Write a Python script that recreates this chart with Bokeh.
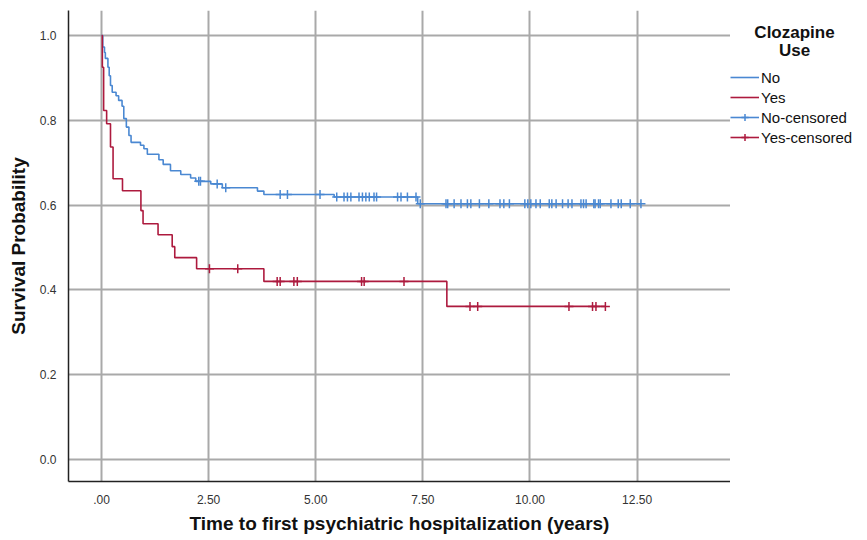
import numpy as np
from bokeh.plotting import figure
from bokeh.layouts import row
from bokeh.models import FixedTicker, Legend, LegendItem, Range1d, Label
from bokeh.embed import file_html
from bokeh.resources import INLINE

# ---------------- data ----------------
groups = ["No", "Yes"]
legend_title = ["Clozapine", "Use"]

no_event_t = [0.03, 0.07, 0.09, 0.15, 0.18, 0.21, 0.25, 0.34, 0.40, 0.48, 0.52,
              0.58, 0.64, 0.69, 0.91, 0.99, 1.07, 1.34, 1.44, 1.61, 1.85, 2.08,
              2.20, 2.55, 2.82, 3.64, 3.79, 5.43, 7.38]
no_surv = [0.973, 0.960, 0.946, 0.925, 0.905, 0.882, 0.866, 0.858, 0.847, 0.833, 0.804,
           0.784, 0.764, 0.748, 0.741, 0.733, 0.720, 0.707, 0.696, 0.681, 0.672, 0.664,
           0.656, 0.650, 0.641, 0.633, 0.625, 0.619, 0.603]
no_censor_t = [2.27, 2.31, 2.70, 2.90, 4.17, 4.34, 5.10, 5.49, 5.66, 5.74, 5.82,
               6.01, 6.09, 6.17, 6.25, 6.36, 6.42, 6.91, 6.99, 7.14, 7.34, 7.44,
               8.04, 8.08, 8.23, 8.39, 8.54, 8.62, 8.82, 9.04, 9.30, 9.39, 9.52,
               9.88, 9.95, 10.02, 10.14, 10.24, 10.45, 10.51, 10.61, 10.76, 10.89,
               10.98, 11.19, 11.25, 11.31, 11.49, 11.52, 11.60, 11.64, 11.89, 12.06,
               12.13, 12.34, 12.59]
no_end = 12.59

yes_event_t = [0.02, 0.05, 0.12, 0.21, 0.27, 0.49, 0.92, 0.97, 1.32, 1.65, 1.71,
               2.22, 3.79, 8.06]
yes_surv = [0.925, 0.823, 0.792, 0.737, 0.662, 0.634, 0.587, 0.556, 0.530, 0.502,
            0.476, 0.450, 0.420, 0.361]
yes_censor_t = [2.52, 3.18, 4.10, 4.17, 4.49, 4.57, 6.07, 6.13, 7.06,
                8.60, 8.78, 10.91, 11.46, 11.54, 11.76]
yes_end = 11.76

x_ticks = [0, 2.5, 5, 7.5, 10, 12.5]
x_tick_labels = [".00", "2.50", "5.00", "7.50", "10.00", "12.50"]
y_ticks = [0, 0.2, 0.4, 0.6, 0.8, 1.0]
y_tick_labels = ["0.0", "0.2", "0.4", "0.6", "0.8", "1.0"]

BLUE = "#4a88d2"
RED = "#ad1a3e"
FONT = "Liberation Sans"

H = 540
W_MAIN, W_LEG = 730, 137
B_TOP, B_BOT = 10, 59
FRAME_BOTTOM = H - B_BOT  # pixel row of the frame bottom (shared by both panels)


def step_xy(ev_t, surv, end):
    xs = [0.0] + list(ev_t) + [end]
    ys = [1.0] + list(surv) + [surv[-1]]
    return xs, ys


def censor_y(ev_t, surv, cens):
    ev = np.asarray(ev_t)
    sv = np.asarray(surv)
    idx = np.searchsorted(ev, np.asarray(cens), side="right") - 1
    return np.where(idx < 0, 1.0, sv[np.clip(idx, 0, None)])


nx, ny = step_xy(no_event_t, no_surv, no_end)
yx, yy = step_xy(yes_event_t, yes_surv, yes_end)
ncy = censor_y(no_event_t, no_surv, no_censor_t)
ycy = censor_y(yes_event_t, yes_surv, yes_censor_t)

p = figure(width=W_MAIN, height=H, output_backend="svg", toolbar_location=None,
           x_range=Range1d(-0.77, 14.68), y_range=Range1d(-0.052, 1.059),
           min_border_left=68, min_border_right=0, min_border_top=B_TOP,
           min_border_bottom=B_BOT)
p.outline_line_color = None
p.background_fill_color = "white"
p.border_fill_color = "white"

for g in (p.xgrid, p.ygrid):
    g.grid_line_color = "#a9a9a9"
    g.grid_line_width = 2

p.xaxis.ticker = FixedTicker(ticks=x_ticks)
p.xaxis.major_label_overrides = {t: l for t, l in zip(x_ticks, x_tick_labels)}
p.yaxis.ticker = FixedTicker(ticks=y_ticks)
p.yaxis.major_label_overrides = {t: l for t, l in zip(y_ticks, y_tick_labels)}

for ax in (p.xaxis, p.yaxis):
    ax.axis_line_color = "#222222"
    ax.axis_line_width = 1.5
    ax.major_tick_line_color = None
    ax.minor_tick_line_color = None
    ax.major_label_text_font = FONT
    ax.major_label_text_font_size = "12px"
    ax.major_label_text_color = "#333333"
    ax.axis_label_text_font = FONT
    ax.axis_label_text_font_style = "bold"
    ax.axis_label_text_font_size = "19px"
    ax.axis_label_text_color = "#111111"

p.xaxis.axis_label = "Time to first psychiatric hospitalization (years)"
p.yaxis.axis_label = "Survival Probability"
p.xaxis.major_label_standoff = 7
p.xaxis.axis_label_standoff = 6
p.yaxis.major_label_standoff = 6
p.yaxis.axis_label_standoff = 8

p.step(nx, ny, mode="after", line_color=BLUE, line_width=1.6)
p.step(yx, yy, mode="after", line_color=RED, line_width=1.6)
p.scatter(no_censor_t, ncy, marker="cross", size=9, line_color=BLUE, line_width=1.5)
p.scatter(yes_censor_t, ycy, marker="cross", size=9, line_color=RED, line_width=1.5)

# ---------------- legend panel (its frame is aligned with the main frame) ----------------
q = figure(width=W_LEG, height=H, output_backend="svg", toolbar_location=None,
           x_range=Range1d(-3, -2), y_range=Range1d(-3, -2),
           x_axis_location=None, y_axis_location=None,
           min_border_left=0, min_border_right=0, min_border_top=B_TOP,
           min_border_bottom=B_BOT)
q.outline_line_color = None
q.xgrid.visible = False
q.ygrid.visible = False

# same series drawn off-range in this panel, only so the legend has glyphs to show
q_no = q.step(nx, ny, mode="after", line_color=BLUE, line_width=1.6)
q_yes = q.step(yx, yy, mode="after", line_color=RED, line_width=1.6)
q_nl = q.line(nx, ny, line_color=BLUE, line_width=1.6)
q_yl = q.line(yx, yy, line_color=RED, line_width=1.6)
q_nc = q.scatter(no_censor_t, ncy, marker="cross", size=14, line_color=BLUE, line_width=1.5)
q_yc = q.scatter(yes_censor_t, ycy, marker="cross", size=14, line_color=RED, line_width=1.5)

LEG_TOP = 64
LEG_H = 4 * 18 + 3 * 2 + 2 * 2
legend = Legend(items=[
    LegendItem(label=groups[0], renderers=[q_no]),
    LegendItem(label=groups[1], renderers=[q_yes]),
    LegendItem(label=groups[0] + "-censored", renderers=[q_nl, q_nc]),
    LegendItem(label=groups[1] + "-censored", renderers=[q_yl, q_yc]),
], location=(0, FRAME_BOTTOM - LEG_TOP - LEG_H))
legend.label_text_font = FONT
legend.label_text_font_size = "15px"
legend.label_text_color = "#111111"
legend.glyph_width = 29
legend.glyph_height = 18
legend.label_height = 18
legend.label_standoff = 2
legend.spacing = 2
legend.padding = 2
legend.margin = 0
legend.border_line_color = None
legend.background_fill_alpha = 0
q.add_layout(legend, "center")

for i, txt in enumerate(legend_title):
    q.add_layout(Label(x=64, y=FRAME_BOTTOM - 32 - 18 * i, x_units="screen", y_units="screen",
                       text=txt, text_align="center", text_baseline="middle",
                       text_font=FONT, text_font_style="bold", text_font_size="17px",
                       text_color="#111111"))

open("out.html", "w").write(file_html(row(p, q), INLINE))
